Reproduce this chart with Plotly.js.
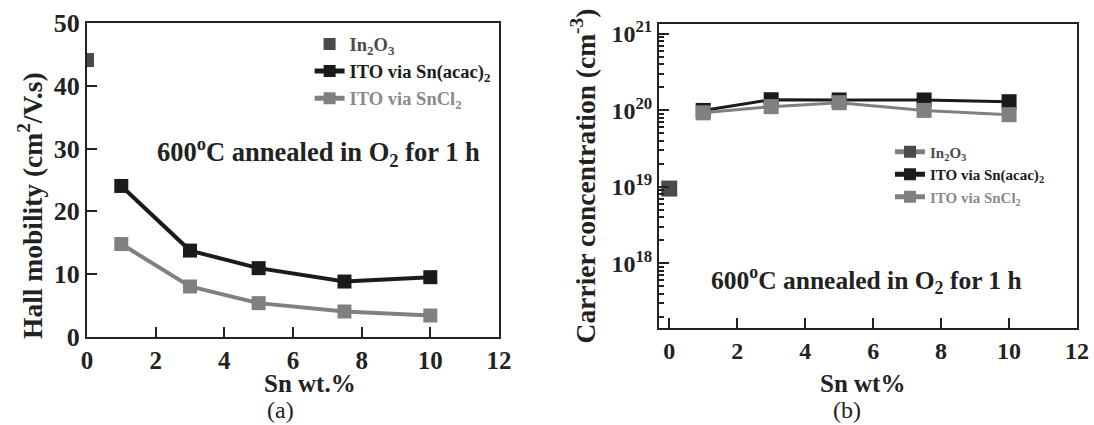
<!DOCTYPE html>
<html>
<head>
<meta charset="utf-8">
<script src="https://cdn.plot.ly/plotly-3.0.1.min.js"></script>
<style>
html,body{margin:0;padding:0;background:#fff;}
#chart{width:1094px;height:425px;}
</style>
</head>
<body>
<div id="chart"></div>
<script>
// ---- Data ----
var snWt = [1, 3, 5, 7.5, 10];
var in2o3X = [0];

// (a) Hall mobility (cm^2/V.s)
var mobIn2O3 = [44.1];
var mobAcac = [24.05, 13.76, 10.96, 8.83, 9.52];
var mobSnCl2 = [14.8, 8.04, 5.39, 4.06, 3.42];

// (b) Carrier concentration (cm^-3)
var ccIn2O3 = [9.5e18];
var ccAcac = [1.0e20, 1.38e20, 1.37e20, 1.37e20, 1.3e20];
var ccSnCl2 = [0.93e20, 1.12e20, 1.26e20, 1.0e20, 0.88e20];

var xTicks = [0, 2, 4, 6, 8, 10, 12];
var yTicksA = [0, 10, 20, 30, 40, 50];
var yTicksB = [1e18, 1e19, 1e20, 1e21];
var yTickTextB = ['10<sup>18</sup>', '10<sup>19</sup>', '10<sup>20</sup>', '10<sup>21</sup>'];

var nameIn2O3 = 'In<sub>2</sub>O<sub>3</sub>';
var nameAcac = 'ITO via Sn(acac)<sub>2</sub>';
var nameSnCl2 = 'ITO via SnCl<sub>2</sub>';
var noteText = '600<sup>o</sup>C annealed in O<sub>2</sub> for 1 h';
var xTitleA = 'Sn wt.%', yTitleA = 'Hall mobility (cm<sup>2</sup>/V.s)';
var xTitleB = 'Sn wt%', yTitleB = 'Carrier concentration (cm<sup>-3</sup>)';

// ---- Styles ----
var cBlack = '#1b1b1b', cGray = '#808080', cDark = '#4a4a4a', cAxis = '#222222';
var serif = "'Liberation Serif', 'Times New Roman', serif";

var traces = [
  {x: in2o3X, y: mobIn2O3, xaxis: 'x', yaxis: 'y', mode: 'markers', name: '<span style="color:#4a4a4a">' + nameIn2O3 + '</span>',
   marker: {symbol: 'square', size: 14, color: cDark}, legend: 'legend'},
  {x: snWt, y: mobAcac, xaxis: 'x', yaxis: 'y', mode: 'lines+markers', name: '<span style="color:#1b1b1b">' + nameAcac + '</span>',
   line: {color: cBlack, width: 4}, marker: {symbol: 'square', size: 14, color: cBlack}, legend: 'legend'},
  {x: snWt, y: mobSnCl2, xaxis: 'x', yaxis: 'y', mode: 'lines+markers', name: '<span style="color:#8a8a8a">' + nameSnCl2 + '</span>',
   line: {color: cGray, width: 4}, marker: {symbol: 'square', size: 14, color: cGray}, legend: 'legend'},

  {x: in2o3X, y: ccIn2O3, xaxis: 'x2', yaxis: 'y2', mode: 'lines+markers', name: '<span style="color:#4a4a4a">' + nameIn2O3 + '</span>',
   line: {color: cGray, width: 1}, marker: {symbol: 'square', size: 16, color: cDark}, legend: 'legend2'},
  {x: snWt, y: ccAcac, xaxis: 'x2', yaxis: 'y2', mode: 'lines+markers', name: '<span style="color:#1b1b1b">' + nameAcac + '</span>',
   line: {color: cBlack, width: 3}, marker: {symbol: 'square', size: 15, color: cBlack}, legend: 'legend2'},
  {x: snWt, y: ccSnCl2, xaxis: 'x2', yaxis: 'y2', mode: 'lines+markers', name: '<span style="color:#8a8a8a">' + nameSnCl2 + '</span>',
   line: {color: cGray, width: 3}, marker: {symbol: 'square', size: 15, color: cGray}, legend: 'legend2'}
];

var axisCommon = {
  showline: true, mirror: true, linecolor: cAxis, linewidth: 2,
  ticks: 'inside', ticklen: 10, tickwidth: 2, tickcolor: cAxis,
  showgrid: false, zeroline: false,
  tickfont: {family: serif, size: 26, color: cAxis, weight: 'bold'}
};

function ax(extra) { return Object.assign({}, axisCommon, extra); }

function txt(x, y, text, size, extra) {
  return Object.assign({xref: 'paper', yref: 'paper', x: x / 1094, y: 1 - y / 425, text: text, showarrow: false,
    font: {family: serif, size: size, color: cAxis}, xanchor: 'center', yanchor: 'middle'}, extra || {});
}

var tickFontB = {family: serif, size: 24, color: cAxis, weight: 'bold'};

var layout = {
  width: 1094, height: 425,
  margin: {l: 0, r: 0, t: 0, b: 0},
  paper_bgcolor: '#fff', plot_bgcolor: '#fff',
  font: {family: serif, color: cAxis},
  xaxis: ax({domain: [0.0795, 0.4561], range: [0, 12], tickvals: xTicks, anchor: 'y',
    tickfont: {family: serif, size: 25, color: cAxis, weight: 'bold'}}),
  yaxis: ax({domain: [0.2071, 0.9459], range: [0, 50], tickvals: yTicksA, anchor: 'x'}),
  xaxis2: ax({domain: [0.6024, 0.9845], range: [-0.3, 12], tickvals: xTicks, anchor: 'y2', tickfont: tickFontB}),
  yaxis2: ax({domain: [0.2282, 0.9435], type: 'log', range: [17.154, 21.13], tickvals: yTicksB, ticktext: yTickTextB, anchor: 'x2',
    tickfont: tickFontB,
    minor: {ticks: 'inside', ticklen: 5, tickwidth: 2, tickcolor: cAxis, dtick: 'D1', showgrid: false},
    title: {text: '<b>' + yTitleB + '</b>', font: {family: serif, size: 27.5, color: cAxis}, standoff: 8}}),
  showlegend: true,
  legend: {x: 0.283, y: 0.94, xanchor: 'left', yanchor: 'top', bgcolor: 'rgba(0,0,0,0)',
    font: {family: serif, size: 18.5, weight: 'bold'}, itemsizing: 'constant', tracegroupgap: 0},
  legend2: {x: 0.8135, y: 0.681, xanchor: 'left', yanchor: 'top', bgcolor: 'rgba(0,0,0,0)',
    font: {family: serif, size: 15, weight: 'bold'}, itemsizing: 'constant', tracegroupgap: 0},
  annotations: [
    txt(318, 152, '<b>' + noteText + '</b>', 26.5),
    txt(866, 280, '<b>' + noteText + '</b>', 25.5),
    txt(310, 383, '<b>' + xTitleA + '</b>', 25),
    txt(862, 383, '<b>' + xTitleB + '</b>', 25),
    txt(31, 206, '<b>' + yTitleA + '</b>', 27.5, {textangle: -90}),
    txt(280, 425, '(a)', 24, {yanchor: 'bottom', y: 0}),
    txt(847, 425, '(b)', 24, {yanchor: 'bottom', y: 0})
  ]
};

Plotly.newPlot('chart', traces, layout, {displayModeBar: false, staticPlot: true});
</script>
</body>
</html>
